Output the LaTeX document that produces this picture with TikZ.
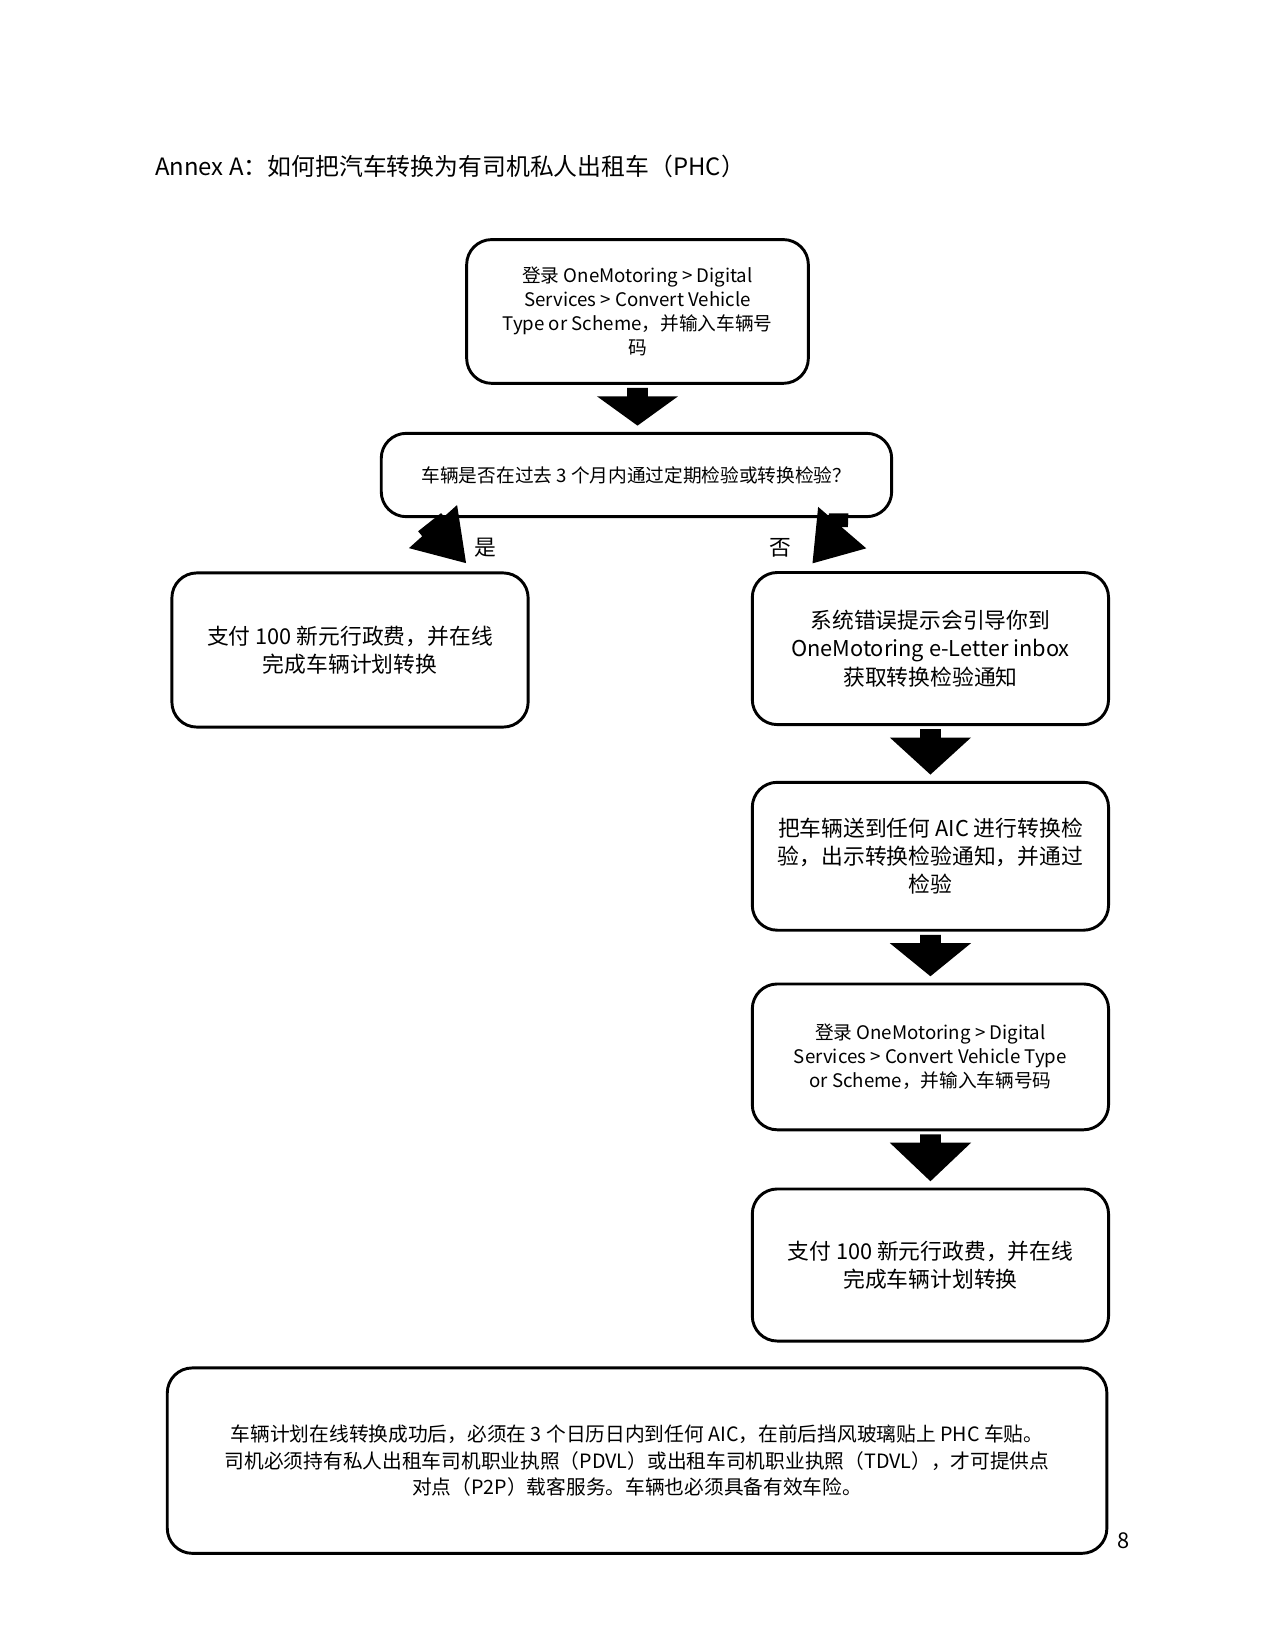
\documentclass[tikz,border=0pt]{standalone}
\usepackage{fontspec}
\setmainfont{Noto Sans CJK SC}
\usetikzlibrary{calc}
\tikzset{
  box/.style={draw, line width=1.4bp, rounded corners=12bp, align=center, inner sep=0pt},
  note/.style={font=\fontsize{9}{11.6}\selectfont},
  big/.style={font=\fontsize{10.5}{13.6}\selectfont},
}
% block arrow from one box down to the next
\newcommand{\flowdown}[2]{%
  \fill ($(#1.south)+(-5bp,-1.5bp)$) -- ++(10bp,0) -- ++(0,-4bp) -- ++(14.5bp,0)
    -- ($(#1.south|-#2.north)+(0,3bp)$) -- ($(#1.south)+(-19.5bp,-5.5bp)$) -- ++(14.5bp,0) -- cycle;}
\begin{document}
\begin{tikzpicture}[x=1bp,y=-1bp]
  \useasboundingbox (0,0) rectangle (612,792);
  % Title
  \node[anchor=west, font=\fontsize{11.5}{14}\selectfont] (title) at (71,80) {Annex A：如何把汽车转换为有司机私人出租车（PHC）};
  % Node: login
  \node[box, note, minimum width=164bp, minimum height=69bp] (login) at (306,149.5)
    {登录 OneMotoring > Digital\\Services > Convert Vehicle\\Type or Scheme，并输入车辆号\\码};
  % Node: check
  \node[box, note, minimum width=245bp, minimum height=40bp] (check) at (305.5,228)
    {车辆是否在过去 3 个月内通过定期检验或转换检验？};
  % Node: payyes
  \node[box, big, minimum width=171bp, minimum height=74bp] (payyes) at (168,312)
    {支付 100 新元行政费，并在线\\完成车辆计划转换};
  % Node: letter
  \node[box, big, minimum width=171bp, minimum height=73bp] (letter) at (446.6,311.3)
    {系统错误提示会引导你到\\OneMotoring e-Letter inbox\\获取转换检验通知};
  % Node: inspect
  \node[box, big, minimum width=171bp, minimum height=71bp] (inspect) at (446.6,411)
    {把车辆送到任何 AIC 进行转换检\\验，出示转换检验通知，并通过\\检验};
  % Node: relogin
  \node[box, note, minimum width=171bp, minimum height=70bp] (relogin) at (446.6,507.3)
    {登录 OneMotoring > Digital\\Services > Convert Vehicle Type\\or Scheme，并输入车辆号码};
  % Node: payno
  \node[box, big, minimum width=171bp, minimum height=73bp] (payno) at (446.6,607.2)
    {支付 100 新元行政费，并在线\\完成车辆计划转换};
  % Node: final
  \node[box, note, font=\fontsize{9.5}{12.6}\selectfont, minimum width=451bp, minimum height=89bp] (final) at (305.8,701.1)
    {车辆计划在线转换成功后，必须在 3 个日历日内到任何 AIC，在前后挡风玻璃贴上 PHC 车贴。\\
     司机必须持有私人出租车司机职业执照（PDVL）或出租车司机职业执照（TDVL），才可提供点\\
     对点（P2P）载客服务。车辆也必须具备有效车险。};
  % Edges
  \flowdown{login}{check}
  \flowdown{letter}{inspect}
  \flowdown{inspect}{relogin}
  \flowdown{relogin}{payno}
  % Edge: check -> payyes (yes)
  \fill (196.3,263.1) -- (219.4,242.4) -- (223.7,270.3) -- cycle;
  \fill (200.7,255) -- (211.7,246.3) -- (215,250) -- (204,259) -- cycle;
  \node[big] (yes) at (233,263) {是};
  % Edge: check -> letter (no)
  \fill (390,270.4) -- (392.7,243.3) -- (415.8,263.2) -- cycle;
  \fill (397.8,246.4) -- (407.2,246.4) -- (407,253) -- (398,253) -- cycle;
  \node[big] (no) at (374.8,263) {否};
  % page number
  \node[big] (page) at (539.2,739.5) {8};
\end{tikzpicture}
\end{document}
